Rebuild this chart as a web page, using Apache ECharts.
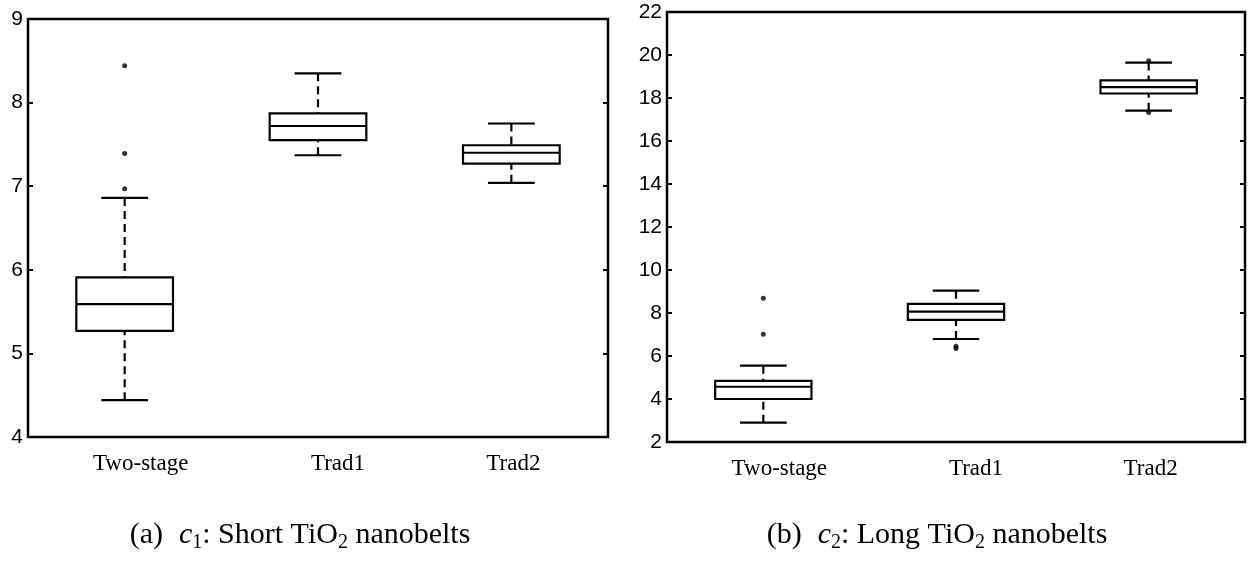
<!DOCTYPE html>
<html>
<head>
<meta charset="utf-8">
<script src="https://cdn.jsdelivr.net/npm/echarts@6/dist/echarts.min.js"></script>
<style>html,body{margin:0;padding:0;background:#fff}#c{width:1253px;height:563px}</style>
</head>
<body>
<div id="c"></div>
<script>
// ---- data ----
const categories = ['Two-stage', 'Trad1', 'Trad2'];

// (a) c1: Short TiO2 nanobelts
const c1Low    = [4.44, 7.37, 7.04];
const c1Q1     = [5.27, 7.55, 7.27];
const c1Median = [5.59, 7.72, 7.40];
const c1Q3     = [5.91, 7.87, 7.49];
const c1High   = [6.86, 8.35, 7.75];
const c1Outliers = [[0, 8.44], [0, 7.39], [0, 6.97]];
const c1Ticks = [4, 5, 6, 7, 8, 9];

// (b) c2: Long TiO2 nanobelts
const c2Low    = [2.90, 6.79, 17.41];
const c2Q1     = [4.00, 7.68, 18.21];
const c2Median = [4.57, 8.06, 18.51];
const c2Q3     = [4.84, 8.42, 18.82];
const c2High   = [5.55, 9.04, 19.65];
const c2Outliers = [[0, 8.69], [0, 7.01], [1, 6.45], [1, 6.35], [2, 19.73], [2, 17.33]];
const c2Ticks = [2, 4, 6, 8, 10, 12, 14, 16, 18, 20, 22];

const captionA = ['(a)', 'c', '1', ': Short TiO', '2', ' nanobelts'];
const captionB = ['(b)', 'c', '2', ': Long TiO', '2', ' nanobelts'];

// ---- build ----
function boxRows(lo, q1, md, q3, hi) {
  return categories.map((c, i) => [i, lo[i], q1[i], md[i], q3[i], hi[i]]);
}

function renderBox(params, api) {
  const cat = api.value(0);
  const lo = api.coord([cat, api.value(1)]);
  const q1 = api.coord([cat, api.value(2)]);
  const md = api.coord([cat, api.value(3)]);
  const q3 = api.coord([cat, api.value(4)]);
  const hi = api.coord([cat, api.value(5)]);
  const band = api.size([1, 0])[0];
  const bw = band * 0.5, cw = band * 0.242;
  const x = md[0];
  const solid = { stroke: '#000', lineWidth: 2.2, fill: null };
  const dash = { stroke: '#000', lineWidth: 2.2, lineDash: [8, 5], fill: null };
  return {
    type: 'group',
    children: [
      { type: 'line', shape: { x1: x, y1: hi[1], x2: x, y2: q3[1] }, style: dash },
      { type: 'line', shape: { x1: x, y1: lo[1], x2: x, y2: q1[1] }, style: dash },
      { type: 'line', shape: { x1: x - cw / 2, y1: hi[1], x2: x + cw / 2, y2: hi[1] }, style: solid },
      { type: 'line', shape: { x1: x - cw / 2, y1: lo[1], x2: x + cw / 2, y2: lo[1] }, style: solid },
      { type: 'rect', shape: { x: x - bw / 2, y: q3[1], width: bw, height: q1[1] - q3[1] }, style: { stroke: '#000', lineWidth: 2.2, fill: '#fff' } },
      { type: 'line', shape: { x1: x - bw / 2, y1: md[1], x2: x + bw / 2, y2: md[1] }, style: solid }
    ]
  };
}

const labelShift = [[32, 40, 4], [32, 40, 4]];
function xAxisFor(g) {
  const rich = {};
  labelShift[g].forEach((s, i) => {
    rich['p' + i] = { fontFamily: 'Liberation Serif', fontSize: 23, color: '#000', padding: [0, 0, 0, s] };
  });
  return {
    type: 'category', gridIndex: g, data: categories, boundaryGap: true,
    axisLine: { show: false }, axisTick: { show: false }, splitLine: { show: false },
    axisLabel: {
      margin: 15, color: '#000', fontFamily: 'Liberation Serif', fontSize: 23,
      formatter: (v, i) => '{p' + i + '|' + v + '}', rich: rich
    }
  };
}
function yAxesFor(g, ticks) {
  const min = ticks[0], max = ticks[ticks.length - 1], interval = ticks[1] - ticks[0];
  const base = {
    type: 'value', gridIndex: g, min: min, max: max, interval: interval,
    axisLine: { show: false }, splitLine: { show: false },
    axisTick: { show: true, inside: true, length: 5, lineStyle: { color: '#000', width: 2 } }
  };
  return [
    Object.assign({}, base, {
      position: 'left',
      axisLabel: { margin: 5, color: '#000', fontFamily: 'Liberation Sans', fontSize: 21 }
    }),
    Object.assign({}, base, { position: 'right', axisLabel: { show: false } })
  ];
}

function captionText(parts) {
  return '{n|' + parts[0] + '}{sp| }{i|' + parts[1] + '}{s|' + parts[2] + '}{n|' + parts[3] + '}{s|' + parts[4] + '}{n|' + parts[5] + '}';
}
const captionRich = {
  n: { fontFamily: 'Liberation Serif', fontSize: 30, fontWeight: 'normal', color: '#000', lineHeight: 36, verticalAlign: 'middle' },
  sp: { fontFamily: 'Liberation Serif', fontSize: 30, fontWeight: 'normal', color: '#000', width: 16, lineHeight: 36 },
  i: { fontFamily: 'Liberation Serif', fontSize: 30, fontWeight: 'normal', fontStyle: 'italic', color: '#000', lineHeight: 36 },
  s: { fontFamily: 'Liberation Serif', fontSize: 20, fontWeight: 'normal', color: '#000', lineHeight: 18, verticalAlign: 'bottom' }
};

const chart = echarts.init(document.getElementById('c'), null, { renderer: 'canvas' });
const yA = yAxesFor(0, c1Ticks);
const yB = yAxesFor(1, c2Ticks);
chart.setOption({
  animation: false,
  backgroundColor: '#fff',
  title: [
    { text: captionText(captionA), left: 295, top: 512, textAlign: 'center', textStyle: { fontWeight: 'normal', rich: captionRich } },
    { text: captionText(captionB), left: 932, top: 512, textAlign: 'center', textStyle: { fontWeight: 'normal', rich: captionRich } }
  ],
  grid: [
    { left: 28, top: 19, right: 645, bottom: 126, show: true, borderColor: '#000', borderWidth: 2.5, backgroundColor: 'transparent' },
    { left: 667, top: 12, right: 8, bottom: 121, show: true, borderColor: '#000', borderWidth: 2.5, backgroundColor: 'transparent' }
  ],
  xAxis: [xAxisFor(0), xAxisFor(1)],
  yAxis: [yA[0], yA[1], yB[0], yB[1]],
  series: [
    { type: 'custom', xAxisIndex: 0, yAxisIndex: 0, renderItem: renderBox,
      encode: { x: 0, y: [1, 2, 3, 4, 5] }, data: boxRows(c1Low, c1Q1, c1Median, c1Q3, c1High), z: 3 },
    { type: 'scatter', xAxisIndex: 0, yAxisIndex: 0, data: c1Outliers, symbolSize: 5,
      itemStyle: { color: '#000' }, z: 4 },
    { type: 'custom', xAxisIndex: 1, yAxisIndex: 2, renderItem: renderBox,
      encode: { x: 0, y: [1, 2, 3, 4, 5] }, data: boxRows(c2Low, c2Q1, c2Median, c2Q3, c2High), z: 3 },
    { type: 'scatter', xAxisIndex: 1, yAxisIndex: 2, data: c2Outliers, symbolSize: 5,
      itemStyle: { color: '#000' }, z: 4 }
  ]
});
</script>
</body>
</html>
